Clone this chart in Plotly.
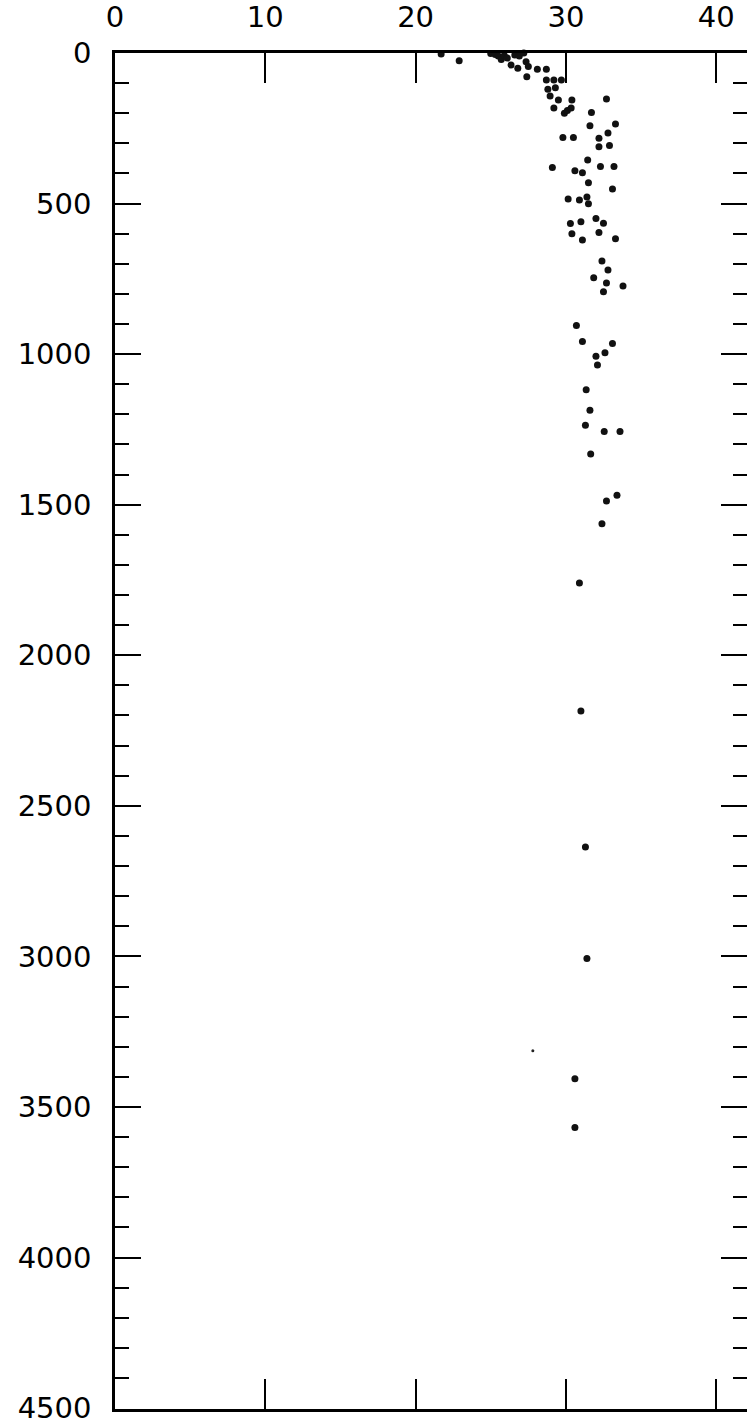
import plotly.graph_objects as go

# Salinity-like values (x) vs depth (y)
x_vals = [21.7, 22.9, 25.0, 25.3, 25.5, 25.7, 25.9, 26.1, 26.35, 26.6, 26.9, 27.2,
          27.35, 27.5, 26.8, 27.4, 28.1, 28.7, 28.7, 29.2, 29.7, 28.8, 29.3, 28.95,
          29.5, 30.4, 32.7, 29.2, 29.9, 30.1, 30.35, 31.7, 31.6, 33.3, 32.8, 32.2,
          32.2, 32.9, 29.8, 30.5, 29.1, 30.6, 31.1, 31.45, 32.3, 33.2, 31.5, 33.1,
          30.15, 30.9, 31.4, 31.5, 30.3, 31.0, 32.0, 32.5, 30.4, 31.1, 32.2, 33.3,
          32.4, 32.8, 31.85, 32.7, 33.8, 32.5, 30.7, 31.1, 33.1, 32.6, 32.0, 32.1,
          31.35, 31.6, 31.3, 32.55, 33.6, 31.65, 33.4, 32.7, 32.4, 30.9, 31.0, 31.3,
          31.4, 30.6, 30.6]
y_vals = [3, 26, 2, 5, 10, 22, 8, 17, 40, 7, 10, 0,
          29, 45, 51, 79, 54, 54, 90, 90, 90, 120, 115, 143,
          156, 156, 153, 183, 200, 191, 183, 198, 242, 236, 266, 283,
          311, 307, 281, 281, 380, 391, 398, 355, 377, 377, 431, 452,
          485, 488, 478, 501, 566, 560, 550, 565, 600, 621, 596, 617,
          691, 721, 746, 764, 774, 793, 905, 958, 965, 995, 1007, 1036,
          1118, 1186, 1236, 1257, 1257, 1332, 1469, 1488, 1563, 1760, 2185, 2637,
          3007, 3406, 3568]

# one faint small point
small_x = [27.8]
small_y = [3313]

x_ticks = [0, 10, 20, 30, 40]
y_ticks = [0, 500, 1000, 1500, 2000, 2500, 3000, 3500, 4000, 4500]

fig = go.Figure()
fig.add_trace(go.Scatter(x=x_vals, y=y_vals, mode="markers",
                         marker=dict(size=7, color="#111111"),
                         cliponaxis=False, showlegend=False))
fig.add_trace(go.Scatter(x=small_x, y=small_y, mode="markers",
                         marker=dict(size=3, color="#222222"),
                         cliponaxis=False, showlegend=False))

font = dict(family="DejaVu Sans", size=29, color="black")

fig.update_layout(
    width=747, height=1424,
    margin=dict(l=115, r=0, t=53, b=15),
    paper_bgcolor="white", plot_bgcolor="white",
    xaxis=dict(side="top", range=[0, 42.05], tickvals=x_ticks,
               ticktext=[str(v) for v in x_ticks],
               ticks="inside", ticklen=30, tickwidth=2.2, tickcolor="black",
               showline=True, linewidth=2.5, linecolor="black", mirror="ticks",
               showgrid=False, zeroline=False, tickfont=font,
               ticklabelstandoff=12, automargin=False,
               ticklabeloverflow="allow"),
    yaxis=dict(range=[4503, 0], tickvals=y_ticks,
               ticktext=[str(v) for v in y_ticks],
               ticks="inside", ticklen=26, tickwidth=2.2, tickcolor="black",
               showline=True, linewidth=2.5, linecolor="black", mirror="ticks",
               showgrid=False, zeroline=False, tickfont=font,
               ticklabelstandoff=15, automargin=False,
               ticklabeloverflow="allow",
               minor=dict(dtick=100, ticks="inside", ticklen=14, tickwidth=2.2,
                          tickcolor="black", showgrid=False)),
)

fig.write_html("out.html",
               config={"displayModeBar": False},
               post_script="document.body.style.margin='0';"
                           "document.body.style.overflow='hidden';")
